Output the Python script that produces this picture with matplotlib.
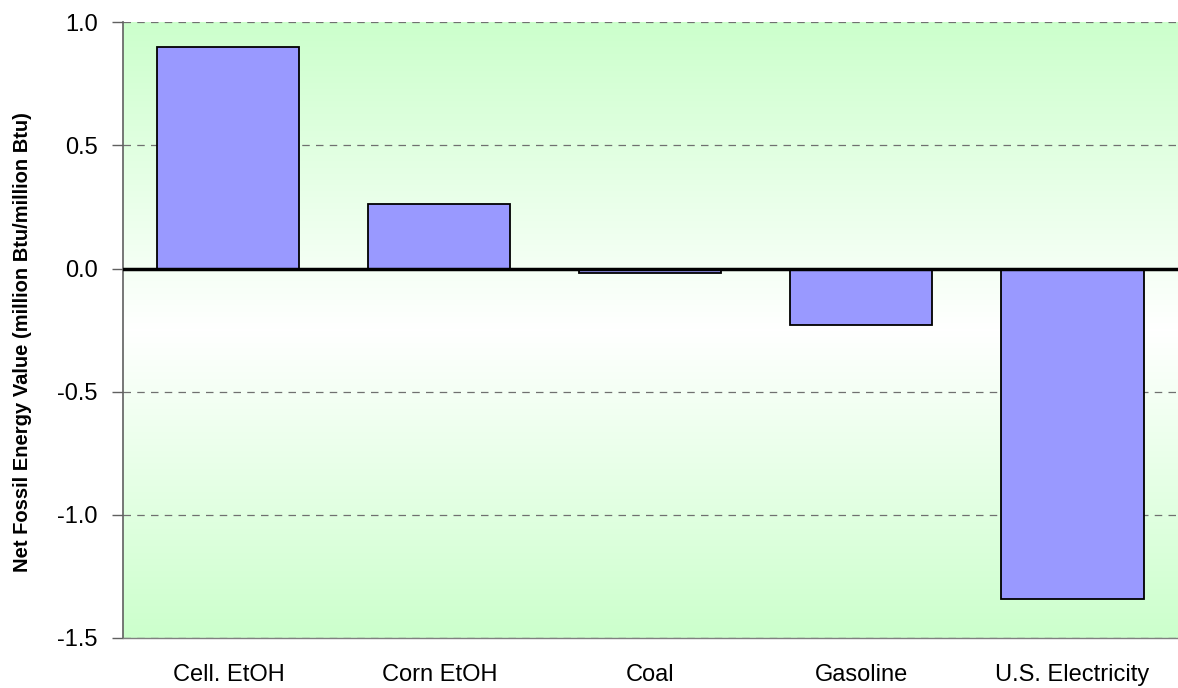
import numpy as np
import matplotlib.pyplot as plt
from matplotlib.colors import LinearSegmentedColormap

plt.rcParams["font.family"] = ["Liberation Sans", "DejaVu Sans"]

fuels = ["Cell. EtOH", "Corn EtOH", "Coal", "Gasoline", "U.S. Electricity"]
net_energy = [0.90, 0.26, -0.02, -0.23, -1.34]
y_ticks = [1.0, 0.5, 0.0, -0.5, -1.0, -1.5]


def net_energy_chart(outfile="out.png"):
    fig = plt.figure(figsize=(11.78, 6.88), dpi=100)
    ax = fig.add_axes([0.1044, 0.0727, 0.8956, 0.9953 - 0.0727 - 0.0276])

    # plot area fill: light green at top and bottom, white through the middle
    cmap = LinearSegmentedColormap.from_list("gw", ["#ffffff", "#ccffcc"])
    t = np.abs(np.linspace(-1, 1, 400)).reshape(-1, 1)
    ax.imshow(t, cmap=cmap, vmin=0, vmax=1, aspect="auto",
              extent=[0, 1, 0, 1], transform=ax.transAxes, zorder=0)

    x = np.arange(len(fuels))
    ax.bar(x, net_energy, width=0.673, color="#9999ff",
           edgecolor="black", linewidth=1.3, zorder=3)
    ax.axhline(0, color="black", linewidth=2.5, zorder=4)

    ax.set_xlim(-0.5, len(fuels) - 0.5)
    ax.set_ylim(-1.5, 1.0)
    ax.set_yticks(y_ticks)
    ax.set_yticklabels([f"{v:.1f}" for v in y_ticks], fontsize=17)
    ax.set_xticks(x)
    ax.set_xticklabels(fuels, fontsize=17)
    ax.tick_params(axis="x", length=0, pad=19)
    ax.tick_params(axis="y", length=8, width=1, color="#606060", pad=10)

    ax.grid(True, axis="y", linestyle=(0, (6, 5)), color="#707070",
            linewidth=0.9, zorder=1)
    for side in ["top", "right"]:
        ax.spines[side].set_visible(False)
    ax.spines["left"].set_color("#606060")
    ax.spines["left"].set_linewidth(1.2)
    ax.spines["bottom"].set_color("#808080")
    ax.spines["bottom"].set_linewidth(1.0)

    ax.set_ylabel("Net Fossil Energy Value (million Btu/million Btu)",
                  fontsize=14.5, fontweight="bold")
    ax.yaxis.set_label_coords(-0.086, 0.48)

    fig.savefig(outfile, dpi=100)


if __name__ == "__main__":
    net_energy_chart()
